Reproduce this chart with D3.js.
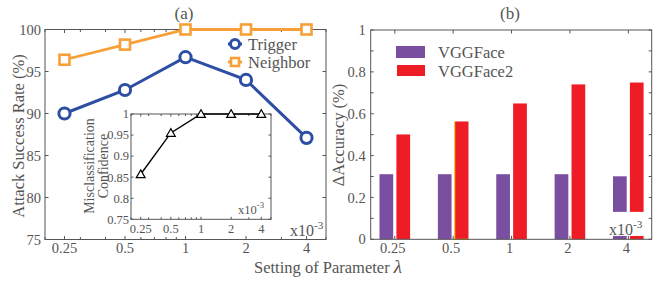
<!DOCTYPE html>
<html><head><meta charset="utf-8">
<script src="https://cdn.jsdelivr.net/npm/d3@7"></script>
<style>
html,body{margin:0;padding:0;background:#fff;}
svg text{font-family:"Liberation Serif",serif;fill:#555;}
</style></head>
<body><svg id="c" width="667" height="281"></svg>
<script>
// ---- data ----
const lambdas = [0.25, 0.5, 1, 2, 4];
const tickLabels = ["0.25", "0.5", "1", "2", "4"];
const trigger = [90.0, 92.8, 96.7, 94.0, 87.1];
const neighbor = [96.4, 98.2, 100, 100, 100];
const confidence = [0.857, 0.955, 1.0, 1.0, 1.0];
const vggface = [0.311, 0.311, 0.311, 0.311, 0.301];
const vggface2 = [0.501, 0.563, 0.649, 0.740, 0.749];
const leftYTicks = [75, 80, 85, 90, 95, 100];
const insetYTicks = [0.75, 0.8, 0.85, 0.9, 0.95, 1];
const rightYTicks = [0, 0.2, 0.4, 0.6, 0.8, 1];
const logMinor = [0.2,0.3,0.4,0.6,0.7,0.8,0.9,3,5];

const svg = d3.select("#c");
const axisCol = "#555";
const BLUE = "#2d4ea3", ORANGE = "#f7a038", PURPLE = "#7a4fa0", RED = "#ee1d25";

function frame(g, x0, x1, y0, y1, fill) {
  g.append("rect").attr("x", x0).attr("y", y0).attr("width", x1 - x0).attr("height", y1 - y0)
    .attr("fill", fill || "none").attr("stroke", axisCol).attr("stroke-width", 1);
}
function xTicks(g, vals, xs, y0, y1, len) {
  vals.forEach(v => {
    const x = xs(v);
    g.append("line").attr("x1", x).attr("x2", x).attr("y1", y1).attr("y2", y1 - len).attr("stroke", axisCol);
    g.append("line").attr("x1", x).attr("x2", x).attr("y1", y0).attr("y2", y0 + len).attr("stroke", axisCol);
  });
}
function yTicks(g, vals, ys, x0, x1, len) {
  vals.forEach(v => {
    const y = ys(v);
    g.append("line").attr("y1", y).attr("y2", y).attr("x1", x0).attr("x2", x0 + len).attr("stroke", axisCol);
    g.append("line").attr("y1", y).attr("y2", y).attr("x1", x1).attr("x2", x1 - len).attr("stroke", axisCol);
  });
}
function times10(g, x, y, size) {
  const t = g.append("text").attr("x", x).attr("y", y).style("font-size", size + "px");
  t.append("tspan").text("x10");
  t.append("tspan").attr("dy", -size * 0.45).style("font-size", (size * 0.7) + "px").text("-3");
}

// ================= Left panel =================
const L = {x0: 45, x1: 326, y0: 29.5, y1: 239.5};
const xL = d3.scaleLog().domain([0.2, 5]).range([L.x0, L.x1]);
const yL = d3.scaleLinear().domain([75, 100]).range([L.y1, L.y0]);
const gL = svg.append("g");
frame(gL, L.x0, L.x1, L.y0, L.y1);
xTicks(gL, lambdas, xL, L.y0, L.y1, 3.5);
xTicks(gL, logMinor, xL, L.y0, L.y1, 2.5);
yTicks(gL, leftYTicks, yL, L.x0, L.x1, 3.5);
leftYTicks.forEach(v => gL.append("text").attr("x", L.x0 - 4).attr("y", yL(v)).attr("dy", "0.35em")
  .attr("text-anchor", "end").style("font-size", "14.5px").text(v));
lambdas.forEach((v, i) => gL.append("text").attr("x", xL(v)).attr("y", 253)
  .attr("text-anchor", "middle").style("font-size", "14.5px").text(tickLabels[i]));
gL.append("text").attr("transform", `translate(24,136) rotate(-90)`).attr("text-anchor", "middle")
  .style("font-size", "16.5px").text("Attack Success Rate (%)");
gL.append("text").attr("x", 184).attr("y", 19).attr("text-anchor", "middle").style("font-size", "17px").text("(a)");
times10(gL, 290, 236, 16);

const lineL = d3.line().x((d, i) => xL(lambdas[i])).y(d => yL(d));
gL.append("path").datum(neighbor).attr("d", lineL).attr("fill", "none").attr("stroke", ORANGE).attr("stroke-width", 2.8);
gL.selectAll(".nb").data(neighbor).enter().append("rect")
  .attr("x", (d, i) => xL(lambdas[i]) - 5).attr("y", d => yL(d) - 5).attr("width", 10).attr("height", 10)
  .attr("fill", "#fff").attr("stroke", ORANGE).attr("stroke-width", 2.6);
gL.append("path").datum(trigger).attr("d", lineL).attr("fill", "none").attr("stroke", BLUE).attr("stroke-width", 3);
gL.selectAll(".tr").data(trigger).enter().append("circle")
  .attr("cx", (d, i) => xL(lambdas[i])).attr("cy", d => yL(d)).attr("r", 5.6)
  .attr("fill", "#fff").attr("stroke", BLUE).attr("stroke-width", 3);

// legend
const lg = gL.append("g");
lg.append("line").attr("x1", 228).attr("x2", 242).attr("y1", 44).attr("y2", 44).attr("stroke", BLUE).attr("stroke-width", 3);
lg.append("circle").attr("cx", 235).attr("cy", 44).attr("r", 4.5).attr("fill", "#fff").attr("stroke", BLUE).attr("stroke-width", 3);
lg.append("text").attr("x", 248).attr("y", 44).attr("dy", "0.35em").style("font-size", "16.5px").text("Trigger");
lg.append("line").attr("x1", 228).attr("x2", 242).attr("y1", 62).attr("y2", 62).attr("stroke", ORANGE).attr("stroke-width", 2.8);
lg.append("rect").attr("x", 231).attr("y", 58).attr("width", 8).attr("height", 8).attr("fill", "#fff").attr("stroke", ORANGE).attr("stroke-width", 2.6);
lg.append("text").attr("x", 248).attr("y", 62).attr("dy", "0.35em").style("font-size", "16.5px").text("Neighbor");

// ================= Inset =================
const I = {x0: 131, x1: 271, y0: 114, y1: 219.3};
const xI = d3.scaleLog().domain([0.2, 5]).range([I.x0, I.x1]);
const yI = d3.scaleLinear().domain([0.75, 1]).range([I.y1, I.y0]);
const gI = svg.append("g");
frame(gI, I.x0, I.x1, I.y0, I.y1, "#fff");
xTicks(gI, lambdas, xI, I.y0, I.y1, 2.5);
xTicks(gI, logMinor, xI, I.y0, I.y1, 2);
yTicks(gI, insetYTicks, yI, I.x0, I.x1, 2.5);
insetYTicks.forEach(v => gI.append("text").attr("x", I.x0 - 2).attr("y", yI(v)).attr("dy", "0.35em")
  .attr("text-anchor", "end").style("font-size", "12.5px").text(v));
lambdas.forEach((v, i) => gI.append("text").attr("x", xI(v)).attr("y", 233)
  .attr("text-anchor", "middle").style("font-size", "12.5px").text(tickLabels[i]));
const tl = gI.append("text").attr("transform", `translate(97,166) rotate(-90)`).attr("text-anchor", "middle").style("font-size", "14px");
tl.append("tspan").attr("x", 0).attr("dy", "-0.25em").text("Misclassification");
tl.append("tspan").attr("x", 0).attr("dy", "1.0em").text("Confidence");
times10(gI, 238, 214, 12.5);
const lineI = d3.line().x((d, i) => xI(lambdas[i])).y(d => yI(d));
gI.append("path").datum(confidence).attr("d", lineI).attr("fill", "none").attr("stroke", "#000").attr("stroke-width", 1.4);
const tri = d3.symbol().type(d3.symbolTriangle).size(34);
gI.selectAll(".tri").data(confidence).enter().append("path").attr("d", tri)
  .attr("transform", (d, i) => `translate(${xI(lambdas[i])},${yI(d) + 0.8})`)
  .attr("fill", "#fff").attr("stroke", "#000").attr("stroke-width", 1.2);

// shared x label
const xl = svg.append("text").attr("x", 328).attr("y", 273).attr("text-anchor", "middle").style("font-size", "16.5px");
xl.append("tspan").text("Setting of Parameter ");
xl.append("tspan").style("font-style", "italic").style("font-size", "19px").text("λ");

// ================= Right panel =================
const R = {x0: 370.7, x1: 651.7, y0: 30, y1: 239.3};
const xR = d3.scaleLinear().domain([0, 4]).range([394.8, 628.3]);
const yR = d3.scaleLinear().domain([0, 1]).range([R.y1, R.y0]);
const gR = svg.append("g");
const bw = 13.7;
gR.selectAll(".b1").data(vggface).enter().append("rect")
  .attr("x", (d, i) => xR(i) - 1.6 - bw).attr("y", d => yR(d)).attr("width", bw).attr("height", d => yR(0) - yR(d))
  .attr("fill", PURPLE);
gR.selectAll(".b2").data(vggface2).enter().append("rect")
  .attr("x", (d, i) => xR(i) + 1.6).attr("y", d => yR(d)).attr("width", bw).attr("height", d => yR(0) - yR(d))
  .attr("fill", RED);
// thin yellow edge seen on the second red bar
gR.append("path").attr("d", `M${xR(1) + 1.6},${yR(vggface2[1])}V${yR(0)}H${xR(1) + 1.6 + bw}`)
  .attr("fill", "none").attr("stroke", "#f2c200").attr("stroke-width", 1);
// white box of the exponent label over the last bars
gR.append("rect").attr("x", xR(4) - 22).attr("y", yR(0.131)).attr("width", 42).attr("height", yR(0.016) - yR(0.131)).attr("fill", "#fff");
times10(gR, 609, 235, 16);

frame(gR, R.x0, R.x1, R.y0, R.y1);
xTicks(gR, [0, 1, 2, 3, 4], xR, R.y0, R.y1, 3.5);
yTicks(gR, d3.range(0, 11).map(d => d / 10), yR, R.x0, R.x1, 3);
rightYTicks.forEach(v => gR.append("text").attr("x", R.x0 - 5).attr("y", yR(v)).attr("dy", "0.35em")
  .attr("text-anchor", "end").style("font-size", "14.5px").text(v));
tickLabels.forEach((t, i) => gR.append("text").attr("x", xR(i) - 2).attr("y", 253)
  .attr("text-anchor", "middle").style("font-size", "14.5px").text(t));
gR.append("text").attr("transform", `translate(344,135) rotate(-90)`).attr("text-anchor", "middle")
  .style("font-size", "16.5px").text("ΔAccuracy (%)");
gR.append("text").attr("x", 510).attr("y", 19).attr("text-anchor", "middle").style("font-size", "17px").text("(b)");

// legend
gR.append("rect").attr("x", 396).attr("y", 46).attr("width", 29).attr("height", 12).attr("fill", PURPLE);
gR.append("rect").attr("x", 397).attr("y", 65).attr("width", 28).attr("height", 11).attr("fill", RED);
gR.append("text").attr("x", 438).attr("y", 52).attr("dy", "0.35em").style("font-size", "16.5px").text("VGGFace");
gR.append("text").attr("x", 438).attr("y", 71).attr("dy", "0.35em").style("font-size", "16.5px").text("VGGFace2");
</script></body></html>
